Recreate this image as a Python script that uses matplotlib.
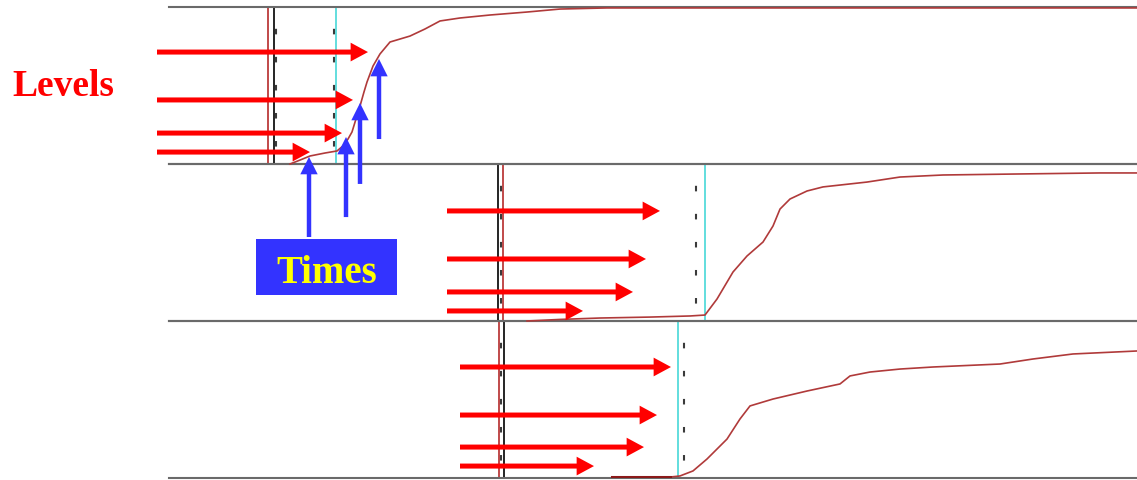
import matplotlib
matplotlib.use("Agg")
import matplotlib.pyplot as plt
from matplotlib.patches import FancyArrowPatch, Rectangle

plt.rcParams["lines.scale_dashes"] = False

# ---- recorded traces: time (ms from record start) vs level (% of full scale)
trace1_time = [121, 131, 141, 156, 168, 174, 179, 183, 187, 191, 195, 198, 204,
               211, 221, 231, 241, 256, 271, 291, 321, 358, 391, 438, 968]
trace1_level = [0, 2.5, 5.1, 7.0, 8.3, 11.5, 15.9, 20.4, 28.7, 36.9, 45.9, 52.2,
                62.4, 70.1, 77.7, 79.6, 81.5, 86.0, 91.1, 93.0, 94.9, 96.8,
                98.7, 99.4, 99.4]

trace2_time = [358, 391, 431, 481, 521, 536, 548, 564, 578, 594, 604, 611, 621,
               638, 654, 671, 698, 731, 774, 844, 931, 968]
trace2_level = [0, 1.0, 1.9, 2.5, 3.2, 3.8, 14.0, 31.2, 41.4, 50.3, 60.5, 71.3,
                77.7, 82.8, 85.4, 86.6, 88.5, 91.7, 93.0, 93.6, 94.3, 94.3]

trace3_time = [443, 501, 511, 524, 538, 558, 571, 581, 604, 638, 671, 681, 701,
               731, 764, 831, 864, 904, 968]
trace3_level = [0.6, 0.6, 1.3, 4.5, 12.1, 24.8, 37.6, 45.9, 50.3, 55.4, 59.9,
                65.0, 67.5, 69.4, 70.7, 72.6, 75.8, 79.0, 80.9]

# ---- cursor markers per trace (ms)
red_cursor = [99, 334, 330]
black_cursor = [105, 329, 335]
start_dashes = [107, 332, 332]
end_dashes = [165, 527, 515]
cyan_cursor = [167, 536, 509]

# ---- level arrows: level (%) and the time where each arrow meets the trace
level_marks = [[71.3, 40.8, 19.7, 7.6],
               [70.1, 39.5, 18.5, 6.4],
               [70.7, 40.1, 19.7, 7.6]]
level_hits = [[199, 184, 173, 141],
              [491, 477, 464, 414],
              [502, 488, 475, 425]]
level_from = [-12, 278, 291]

# ---- time arrows on the first trace: time, tip level, tail level
time_marks = [140, 177, 191, 210]
time_tips = [4.5, 17.2, 38.9, 66.9]
time_tails = [-46.5, -33.8, -12.7, 15.9]

traces = [(trace1_time, trace1_level),
          (trace2_time, trace2_level),
          (trace3_time, trace3_level)]

W, H, DPI = 1137, 481, 100
fig = plt.figure(figsize=(W / DPI, H / DPI), dpi=DPI)
fig.patch.set_facecolor("white")

LEFT, RIGHT, TOP, PANEL_H = 169, 1137, 8, 157
TRACE_COLOR = "#b03a3a"
RED = "#ff0000"
BLUE = "#3333ff"


def arrow(ax, start, end, color, head_len, head_w, tail_w, z=6):
    style = (f"simple,head_length={head_len},head_width={head_w},"
             f"tail_width={tail_w}")
    ax.add_patch(FancyArrowPatch(start, end, arrowstyle=style,
                                 mutation_scale=1, color=color, lw=0,
                                 shrinkA=0, shrinkB=0, clip_on=False,
                                 zorder=z))


axes = []
for i in range(3):
    top_px = TOP + PANEL_H * i
    ax = fig.add_axes([LEFT / W, 1 - (top_px + PANEL_H) / H,
                       (RIGHT - LEFT) / W, PANEL_H / H])
    ax.set_zorder(3 - i)
    ax.patch.set_visible(False)
    ax.set_xlim(0, RIGHT - LEFT)
    ax.set_ylim(0, 100)
    ax.set_xticks([])
    ax.set_yticks([])
    for side in ("left", "right"):
        ax.spines[side].set_visible(False)
    for side in ("top", "bottom"):
        ax.spines[side].set_color("#6a6a6a")
        ax.spines[side].set_linewidth(1.5)

    # cursors
    ax.plot([red_cursor[i]] * 2, [0, 100], color="#c04a4a", lw=1.4, zorder=2)
    ax.plot([black_cursor[i]] * 2, [0, 100], color="black", lw=1.2, zorder=2)
    ax.plot([cyan_cursor[i]] * 2, [0, 100], color="#48d8d8", lw=1.2, zorder=2)
    for t in (start_dashes[i], end_dashes[i]):
        ax.plot([t, t], [100, 0], color="#3a3a3a", lw=1.5, zorder=2,
                solid_capstyle="butt", dash_capstyle="butt",
                linestyle=(4.5, (4.0, 16.2)))

    # trace
    tt, lv = traces[i]
    ax.plot(tt, lv, color=TRACE_COLOR, lw=1.2, zorder=4, clip_on=False)
    if i == 2:
        ax.plot(tt[:2], lv[:2], color="#8b1a1a", lw=2.2, zorder=4)

    # level arrows
    for lev, hit in zip(level_marks[i], level_hits[i]):
        arrow(ax, (level_from[i], lev), (hit, lev), RED, 12.5, 13.5, 3.6)
    axes.append(ax)

# time arrows on the first trace
for t, tip, tail in zip(time_marks, time_tips, time_tails):
    arrow(axes[0], (t, tail), (t, tip), BLUE, 12.5, 12.5, 3.2, z=7)

# annotations
fig.text(12 / W, 1 - 96 / H, "Levels", color=RED, fontsize=27,
         fontweight="bold", family=["Liberation Serif", "DejaVu Serif"],
         ha="left", va="baseline")

box = Rectangle((256 / W, 1 - 296 / H), 141 / W, 56 / H,
                transform=fig.transFigure, facecolor=BLUE, edgecolor="none",
                zorder=10)
fig.add_artist(box)
fig.text(326.5 / W, 1 - 283 / H, "Times", color="#ffff00", fontsize=28,
         fontweight="bold", family=["Liberation Serif", "DejaVu Serif"],
         ha="center", va="baseline", zorder=11)

fig.savefig("out.png", dpi=DPI)
